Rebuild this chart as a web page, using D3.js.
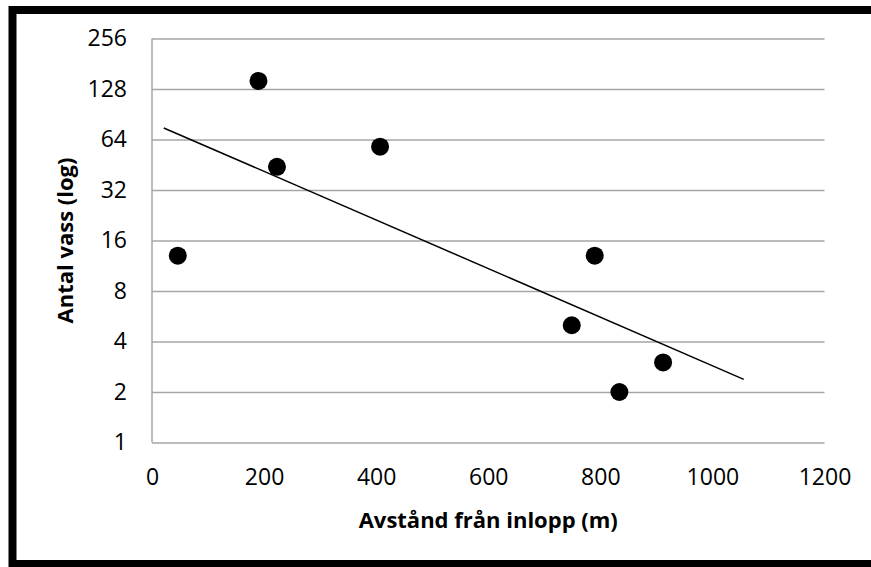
<!DOCTYPE html>
<html>
<head>
<meta charset="utf-8">
<script src="https://cdn.jsdelivr.net/npm/d3@7"></script>
<style>
  body { margin: 0; background: #fff; }
  svg { display: block; }
  svg text { font-family: "Open Sans", sans-serif; fill: #000; }
</style>
</head>
<body>
<div class="chart"></div>
<script>
// distance from inlet (m) and reed count
var distance = [46, 190, 223, 407, 749, 790, 834, 912];
var count = [13, 143, 44, 58, 5, 13, 2, 3];

// trendline end points (exponential fit, as drawn)
var trendX = [21, 1056];
var trendY = [75, 2.38];

var xTicks = [0, 200, 400, 600, 800, 1000, 1200];
var yTicks = [1, 2, 4, 8, 16, 32, 64, 128, 256];

var W = 871, H = 567;
var margin = { top: 38.5, right: 46.5, bottom: 124.5, left: 152 };
var width = W - margin.left - margin.right;
var height = H - margin.top - margin.bottom;

var x = d3.scaleLinear().domain([0, 1200]).range([0, width]);
var y = d3.scaleLog().base(2).domain([1, 256]).range([height, 0]);

var svg = d3.select(".chart").append("svg")
    .attr("width", W)
    .attr("height", H);

// outer frame
svg.append("rect")
    .attr("x", 12.5)
    .attr("y", 10)
    .attr("width", 900)
    .attr("height", 554)
    .attr("fill", "none")
    .attr("stroke", "#000")
    .attr("stroke-width", 8);

var g = svg.append("g")
    .attr("transform", "translate(" + margin.left + "," + margin.top + ")");

// gridlines + y labels
var yAxis = d3.axisLeft(y)
    .tickValues(yTicks)
    .tickSize(-width)
    .tickPadding(25)
    .tickFormat(d3.format("d"));

g.append("g")
    .attr("class", "y axis")
    .call(yAxis)
    .call(function(s) {
      s.select(".domain").remove();
      s.selectAll(".tick line").attr("stroke", "#a6a6a6").attr("stroke-width", 1.5);
      s.selectAll(".tick text").style("font-size", "23px");
    });

// left axis line
g.append("line")
    .attr("x1", 0).attr("x2", 0)
    .attr("y1", 0).attr("y2", height)
    .attr("stroke", "#a6a6a6")
    .attr("stroke-width", 1.5);

var xAxis = d3.axisBottom(x)
    .tickValues(xTicks)
    .tickSize(0)
    .tickPadding(26)
    .tickFormat(d3.format("d"));

g.append("g")
    .attr("class", "x axis")
    .attr("transform", "translate(0," + height + ")")
    .call(xAxis)
    .call(function(s) {
      s.select(".domain").remove();
      s.selectAll(".tick text").style("font-size", "23px");
    });

// trendline
var trend = trendX.map(function(d, i) { return [d, trendY[i]]; });
g.append("path")
    .datum(trend)
    .attr("fill", "none")
    .attr("stroke", "#000")
    .attr("stroke-width", 1.5)
    .attr("d", d3.line()
      .x(function(d) { return x(d[0]); })
      .y(function(d) { return y(d[1]); }));

// points
g.selectAll("circle")
    .data(distance)
  .enter().append("circle")
    .attr("r", 9)
    .attr("cx", function(d) { return x(d); })
    .attr("cy", function(d, i) { return y(count[i]); })
    .attr("fill", "#000");

// axis titles
g.append("text")
    .attr("x", width / 2)
    .attr("y", height + 85)
    .attr("text-anchor", "middle")
    .style("font-size", "22px")
    .style("font-weight", "bold")
    .text("Avstånd från inlopp (m)");

g.append("text")
    .attr("transform", "translate(" + (73 - margin.left) + "," + (height / 2) + ") rotate(-90)")
    .attr("text-anchor", "middle")
    .style("font-size", "22px")
    .style("font-weight", "bold")
    .text("Antal vass (log)");
</script>
</body>
</html>
